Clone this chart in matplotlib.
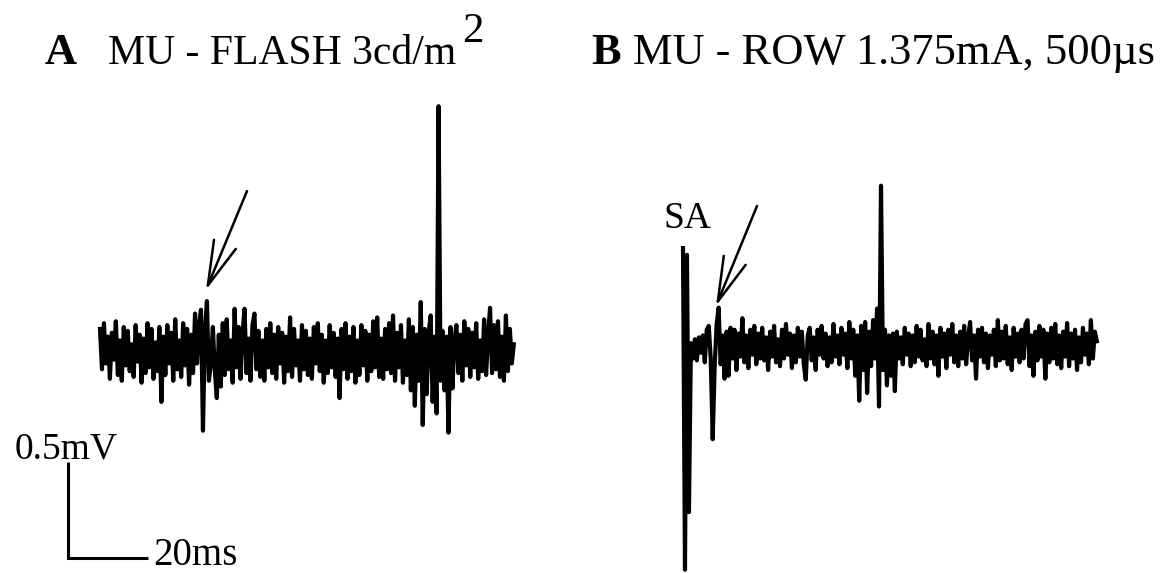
import numpy as np
import matplotlib
matplotlib.use('Agg')
import matplotlib.pyplot as plt

# --- data (microvolts, one sample every 0.495 ms) ---
SAMPLE_MS = 0.495

trace_a_uV = [
    120, -90, 150, -60, 80, -140, 100, -40, 160, -120,
    60, -150, 130, -70, 110, -100, 40, -130, 140, -50,
    90, -160, 70, -110, 150, -80, 120, -140, 50, -100,
    130, -260, 80, -120, 140, -60, 100, -150, 170, -90,
    60, -130, 150, -70, 120, -170, 90, -110, 200, -60,
    140, 220, -410, 110, 265, -150, -60, 130, -100, -240,
    90, -180, 150, -120, 170, -90, 60, -160, 225, -80,
    130, -140, 100, 225, -110, 70, -150, 140, 200, -90,
    110, -130, 60, -150, 120, -80, 150, -110, 90, -140,
    130, -60, 100, -160, 80, -100, 180, -130, 120, -70,
    60, -150, 140, -90, 110, -120, 70, -140, 130, -60,
    150, -100, 90, -160, 60, -110, 140, -80, 100, -130,
    70, -240, 120, -90, 150, -140, 80, -100, 130, -160,
    60, -120, 140, -70, 110, -150, 90, -100, 160, -80,
    180, -130, 70, -140, 120, -90, 150, -110, 190, -150,
    100, -80, 140, -160, 60, -120, 170, -200, 130, -280,
    90, -150, 260, -380, 120, -220, 100, 190, -260, 80,
    -320, 1280, -150, 110, -200, 80, -420, 130, -190, 60,
    140, -110, 90, -150, 160, -70, 120, -130, 100, -80,
    150, -140, 60, -100, 170, -120, 90, 230, -110, 140,
    -90, 160, -130, 80, -150, 190, -100, 120, -60, 40,
]

trace_b_uV = [
    515, -1160, 480, -860, 20, -60, 40, -70, 50, -30,
    60, -80, 90, 110, -60, -480, -100, 120, 205, -90,
    60, -165, 80, -150, 100, -60, 90, -120, 70, -50,
    150, -80, 60, -110, 90, -40, 110, -90, 70, -60,
    100, -70, 50, -120, 80, -50, 110, -80, 40, -100,
    90, -60, 120, -40, 70, -110, 60, -80, 100, -50,
    80, -90, -170, 60, 100, -70, 50, -120, 90, -40,
    110, -60, 70, -100, 50, -80, 120, -50, 60, -90,
    100, -40, 70, -110, 130, -60, 90, -150, 60, -280,
    110, -120, 130, -240, 80, -100, 140, -60, 200, -310,
    840, -120, 90, -200, 60, -150, 70, -230, 80, -60,
    50, -90, 100, -40, 70, -100, 60, -80, 110, -50,
    90, -70, 40, -100, 120, -60, 80, -90, 60, -150,
    100, -50, 70, -110, 90, -40, 120, -80, 60, -100,
    80, -60, 110, -90, 50, 130, -70, 60, -165, 90,
    -50, 100, -80, 70, -110, 60, -40, 90, -100, 140,
    -70, 80, -60, 110, -90, 50, -120, 100, -50, 70,
    -80, 90, -60, 120, 140, -100, 60, -150, 80, -70,
    110, -50, 90, -165, 70, -80, 100, -60, 120, -90,
    60, -110, 80, -50, 125, -100, 70, -60, 90, -120,
    50, -80, 100, -40, 70, -90, 140, -60, 80, 30,
]

# where each sweep sits on the page (ms, mV)
start_a_ms, base_a_mV = 8.0, 1.073
start_b_ms, base_b_mV = 153.75, 1.099

scale_mV = 0.5
scale_ms = 20

title_a = 'MU - FLASH 3cd/m'
title_b = 'MU - ROW 1.375mA, 500\u00b5s'

# --- figure ---
fig = plt.figure(figsize=(11.63, 5.73), dpi=100)
ax = fig.add_axes([0, 0, 1, 1])
ax.set_xlim(-17.0, 273.75)
ax.set_ylim(-0.078, 2.906)
ax.axis('off')

ya = np.array(trace_a_uV) / 1000.0 + base_a_mV
ta = start_a_ms + SAMPLE_MS * np.arange(len(ya))
yb = np.array(trace_b_uV) / 1000.0 + base_b_mV
tb = start_b_ms + SAMPLE_MS * np.arange(len(yb))

ax.plot(ta, ya, color='black', lw=3.0)
ax.plot(tb, yb, color='black', lw=3.0)

# scale bar
ax.plot([0, 0, scale_ms], [scale_mV, 0, 0], color='black', lw=2.2,
        solid_capstyle='butt', solid_joinstyle='miter')

serif = 'Liberation Serif'
ax.text(-13.3, scale_mV + 0.02, '%smV' % scale_mV, family=serif,
        fontsize=27, va='baseline', ha='left')
ax.text(scale_ms + 1.2, -0.036, '%dms' % scale_ms, family=serif,
        fontsize=28, va='baseline', ha='left')

# arrows pointing at the response
arrow = dict(arrowstyle='->,head_length=3.2,head_width=0.85', color='black',
             lw=1.8, shrinkA=0, shrinkB=0, mutation_scale=10)
ax.annotate('', xy=(34.5, 1.396), xytext=(44.75, 1.911), arrowprops=arrow)
ax.annotate('', xy=(162.0, 1.3125), xytext=(172.25, 1.833), arrowprops=arrow)

ax.text(148.8, 1.719, 'SA', family=serif, fontsize=27, va='baseline', ha='left')

# panel titles
fig.text(0.038, 0.888, 'A', family=serif, weight='bold', fontsize=32, va='baseline')
fig.text(0.093, 0.888, title_a, family=serif, fontsize=30, va='baseline')
fig.text(0.397, 0.927, '2', family=serif, fontsize=31, va='baseline')
fig.text(0.508, 0.888, 'B', family=serif, weight='bold', fontsize=32, va='baseline')
fig.text(0.544, 0.888, title_b, family=serif, fontsize=32, va='baseline')

fig.savefig('out.png', dpi=100)
